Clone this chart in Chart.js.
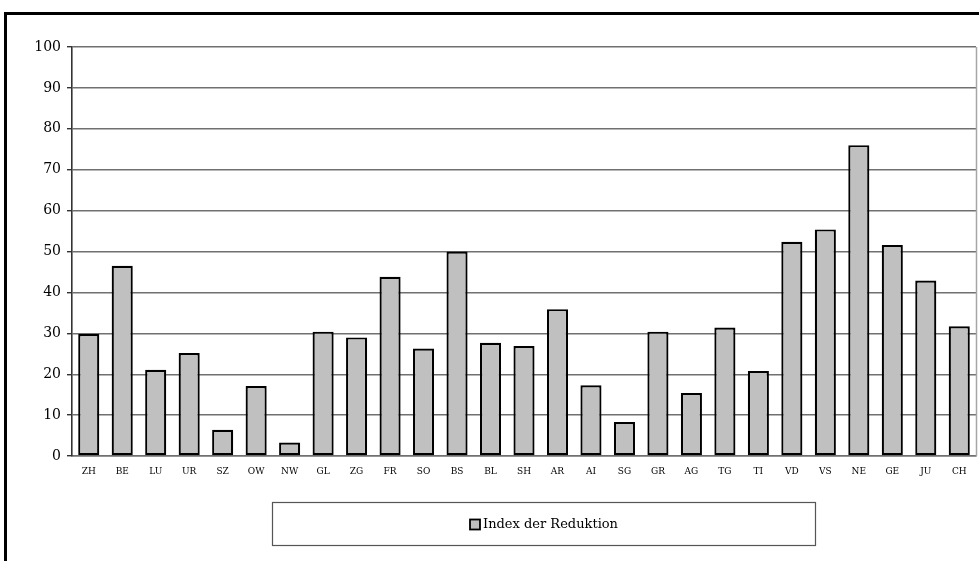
<!DOCTYPE html>
<html>
<head>
<meta charset="utf-8">
<script src="https://cdn.jsdelivr.net/npm/chart.js@4.4.1/dist/chart.umd.min.js"></script>
<style>
  html, body { margin: 0; padding: 0; background: #fff; overflow: hidden; }
  #wrap { position: relative; width: 979px; height: 561px; overflow: hidden; }
  #frame { position: absolute; left: 4px; top: 12px; width: 1100px; height: 700px;
           border: 3px solid #000; box-sizing: border-box; }
  #c { position: absolute; left: 0; top: 0; }
</style>
</head>
<body>
<div id="wrap">
  <div id="frame"></div>
  <canvas id="c" width="979" height="561"></canvas>
</div>
<script>
// Cantons and their reduction index
const cantons = ['ZH','BE','LU','UR','SZ','OW','NW','GL','ZG','FR','SO','BS','BL','SH','AR','AI','SG','GR','AG','TG','TI','VD','VS','NE','GE','JU','CH'];
const reductionIndex = [29.8, 46.5, 21.1, 25.2, 6.4, 17.1, 3.3, 30.4, 29.0, 43.8, 26.3, 50.0, 27.7, 26.9, 35.9, 17.3, 8.3, 30.4, 15.4, 31.4, 20.8, 52.4, 55.4, 76.0, 51.6, 42.9, 31.7];
const seriesLabel = 'Index der Reduktion';
const yTicks = [0, 10, 20, 30, 40, 50, 60, 70, 80, 90, 100];

const serif = '"DejaVu Serif", "Liberation Serif", serif';

// Right-hand edge of the plot area
const plotFrame = {
  id: 'plotFrame',
  afterDraw(chart) {
    const { ctx, chartArea: a } = chart;
    ctx.save();
    ctx.strokeStyle = '#a6a6a6';
    ctx.lineWidth = 1.5;
    ctx.beginPath();
    ctx.moveTo(a.right + 0.5, a.top);
    ctx.lineTo(a.right + 0.5, a.bottom);
    ctx.stroke();
    ctx.restore();
  }
};

// Boxed legend below the chart
const boxedLegend = {
  id: 'boxedLegend',
  afterDraw(chart) {
    const { ctx } = chart;
    const ds = chart.data.datasets[0];
    const box = { x: 272, y: 502, w: 543, h: 43 };
    ctx.save();
    ctx.fillStyle = '#fff';
    ctx.fillRect(box.x, box.y, box.w, box.h);
    ctx.strokeStyle = '#555';
    ctx.lineWidth = 1.2;
    ctx.strokeRect(box.x + 0.5, box.y + 0.5, box.w, box.h);

    ctx.font = '13px ' + serif;
    const text = ds.label;
    const tw = ctx.measureText(text).width;
    const sw = 10, gap = 3;
    const total = sw + gap + tw;
    const cx = box.x + box.w / 2;
    const sx = Math.round(cx - total / 2);
    const cy = box.y + box.h / 2 + 1;
    ctx.fillStyle = ds.backgroundColor;
    ctx.fillRect(sx, cy - sw / 2, sw, sw);
    ctx.strokeStyle = '#000';
    ctx.lineWidth = 1.8;
    ctx.strokeRect(sx, cy - sw / 2, sw, sw);
    ctx.fillStyle = '#000';
    ctx.textBaseline = 'middle';
    ctx.textAlign = 'left';
    ctx.fillText(text, sx + sw + gap, cy);
    ctx.restore();
  }
};

new Chart(document.getElementById('c'), {
  type: 'bar',
  data: {
    labels: cantons,
    datasets: [{
      label: seriesLabel,
      data: reductionIndex,
      backgroundColor: '#c0c0c0',
      borderColor: '#000',
      borderWidth: 2.2,
      borderSkipped: false,
      categoryPercentage: 1.0,
      barPercentage: 0.63
    }]
  },
  options: {
    responsive: false,
    animation: false,
    devicePixelRatio: 1,
    layout: { padding: { left: 0, right: 3, top: 47, bottom: 75 } },
    plugins: {
      legend: { display: false },
      tooltip: { enabled: false }
    },
    scales: {
      x: {
        grid: { display: false, drawTicks: false },
        border: { display: true, color: '#707070', width: 1.5 },
        ticks: {
          color: '#000',
          font: { family: serif, size: 9 },
          padding: 10,
          maxRotation: 0,
          autoSkip: false
        },
        afterFit(scale) { scale.height = 30; }
      },
      y: {
        min: 0,
        max: 100,
        afterBuildTicks(scale) { scale.ticks = yTicks.map(v => ({ value: v })); },
        grid: {
          color: '#707070',
          lineWidth: 1.4,
          tickLength: 5,
          drawTicks: true,
          tickColor: '#333'
        },
        border: { display: true, color: '#333', width: 1.6 },
        ticks: {
          color: '#000',
          font: { family: serif, size: 14 },
          padding: 6
        },
        afterFit(scale) { scale.width = 72; }
      }
    }
  },
  plugins: [plotFrame, boxedLegend]
});
</script>
</body>
</html>
